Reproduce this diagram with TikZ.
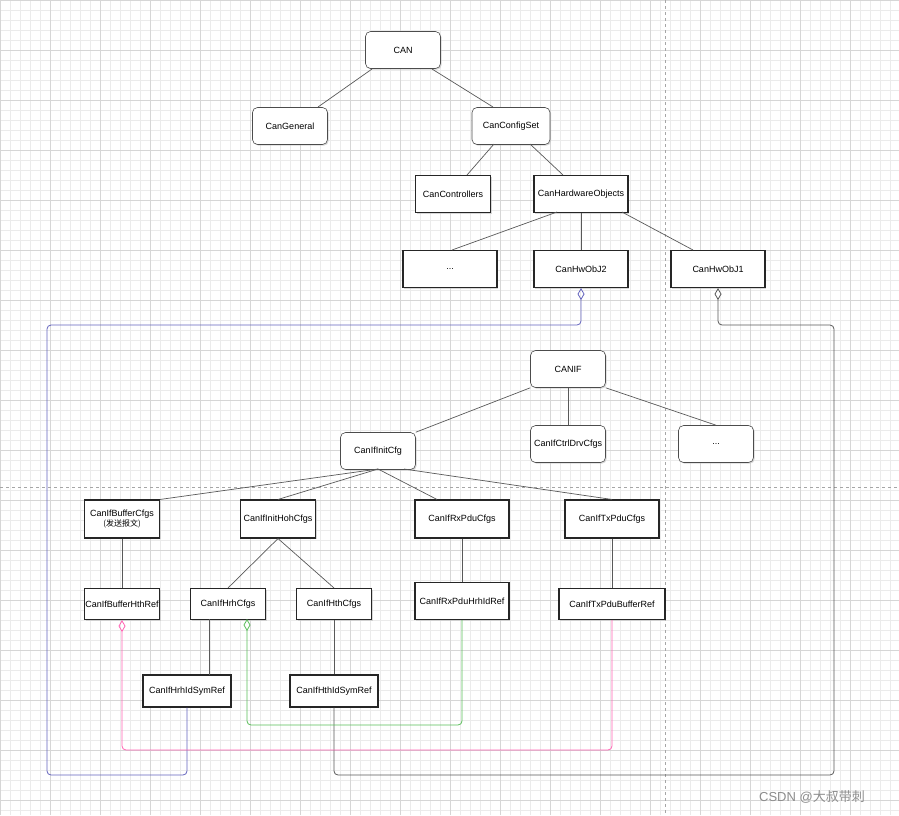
\documentclass[tikz,border=0pt]{standalone}
\usepackage{fontspec}
\setmainfont{Liberation Sans}
\newfontfamily\cjk{Noto Sans CJK SC}
\usetikzlibrary{arrows.meta,shadows}
\begin{document}
\begin{tikzpicture}[x=1pt,y=-1pt,
 box/.style={draw=black!85,line width=1.1pt,fill=white,minimum width=#1,minimum height=37pt,inner sep=1pt,font=\fontsize{9}{10.5}\selectfont,align=center,drop shadow={shadow xshift=1.2pt,shadow yshift=-1.2pt,fill=black!25,opacity=.6}},
 box/.default=75pt,
 rbox/.style={box=#1,draw=black!70,line width=0.6pt,rounded corners=5pt},
 rbox/.default=75pt,
 edge/.style={draw=black!65,line width=0.7pt},
 ref/.style={line width=0.8pt,rounded corners=4pt},
 dia/.style={{Diamond[open,length=12pt,width=7pt]}-}]
\useasboundingbox (0,0) rectangle (899,815);
\fill[white] (0,0) rectangle (899,815);
\foreach \i in {0,10,...,900} {\draw[black!8,line width=0.4pt] (\i,0) -- (\i,815);}
\foreach \i in {0,10,...,810} {\draw[black!8,line width=0.4pt] (0,\i) -- (899,\i);}
\foreach \i in {0,50,...,900} {\draw[black!16,line width=0.5pt] (\i,0) -- (\i,815);}
\foreach \i in {0,50,...,810} {\draw[black!16,line width=0.5pt] (0,\i) -- (899,\i);}
\draw[black!35,dashed,line width=0.6pt] (665,0) -- (665,815);
\draw[black!35,dashed,line width=0.6pt] (0,487) -- (899,487);

\node[rbox] (can) at (403,50) {CAN};
\node[rbox] (gen) at (290,126) {CanGeneral};
\node[rbox=78pt] (cfg) at (511,126) {CanConfigSet};
\node[box] (ctl) at (453,194) {CanControllers};
\node[box=94pt] (hwo) at (581,194) {CanHardwareObjects};
\node[box=94pt] (dots1) at (450,269) {...};
\node[box=94pt] (hw2) at (581,269) {CanHwObJ2};
\node[box=94pt] (hw1) at (718,269) {CanHwObJ1};
\node[rbox] (canif) at (568,369) {CANIF};
\node[rbox] (init) at (378,451) {CanIfInitCfg};
\node[rbox] (ctrl) at (568,444) {CanIfCtrlDrvCfgs};
\node[rbox] (dots2) at (716,444) {...};
\node[box,minimum height=38pt] (buf) at (122,519) {CanIfBufferCfgs\\{\cjk\fontsize{8}{9}\selectfont (发送报文)}};
\node[box,minimum height=38pt] (hoh) at (278,519) {CanIfInitHohCfgs};
\node[box=94pt,minimum height=38pt] (rx) at (462,519) {CanIfRxPduCfgs};
\node[box=94pt,minimum height=38pt] (tx) at (612,519) {CanIfTxPduCfgs};
\node[box,minimum height=31pt] (bufref) at (122,604) {CanIfBufferHthRef};
\node[box,minimum height=31pt] (hrh) at (228,604) {CanIfHrhCfgs};
\node[box,minimum height=31pt] (hth) at (334,604) {CanIfHthCfgs};
\node[box=94pt] (rxref) at (462,601) {CanIfRxPduHrhIdRef};
\node[box=106pt,minimum height=31pt] (txref) at (612,604) {CanIfTxPduBufferRef};
\node[box=88pt,minimum height=32pt] (hrhsym) at (187,691) {CanIfHrhIdSymRef};
\node[box=88pt,minimum height=32pt] (hthsym) at (334,691) {CanIfHthIdSymRef};

\coordinate (c1) at (372,69); \coordinate (c1b) at (318,107);
\coordinate (c2) at (432,69); \coordinate (c2b) at (493,107);
\coordinate (c3) at (494,144); \coordinate (c3b) at (467,175);
\coordinate (c4) at (530,144); \coordinate (c5) at (563,175);
\coordinate (c6) at (557,212); \coordinate (c7) at (622,212);
\coordinate (c8) at (452,250); \coordinate (c9) at (693,250);
\coordinate (i1) at (378,469); \coordinate (i2) at (404,469);
\coordinate (hr1) at (209,619); \coordinate (hr2) at (209,675);
\draw[edge] (c1) -- (c1b);
\draw[edge] (c2) -- (c2b);
\draw[edge] (c3) -- (c3b);
\draw[edge] (c4) -- (c5);
\draw[edge] (c6) -- (c8);
\draw[edge] (hwo) -- (hw2);
\draw[edge] (c7) -- (c9);
\draw[edge] (canif.south west) -- (init.north east);
\draw[edge] (canif) -- (ctrl);
\draw[edge] (canif.south east) -- (dots2.north);
\draw[edge] (i1) -- (buf.north east);
\draw[edge] (i1) -- (hoh.north);
\draw[edge] (i1) -- ([xshift=-25pt]rx.north);
\draw[edge] (i2) -- (tx.north);
\draw[edge] (hoh.south) -- (hrh.north);
\draw[edge] (hoh.south) -- (hth.north);
\draw[edge] (buf) -- (bufref);
\draw[edge] (rx) -- (rxref);
\draw[edge] (tx) -- (txref);
\draw[edge] (hr1) -- (hr2);
\draw[edge] (hth) -- (hthsym);

\coordinate (b1) at (581,325); \coordinate (b2) at (47,325); \coordinate (b3) at (47,775); \coordinate (b4) at (187,775);
\draw[ref,draw={rgb,255:red,100;green,100;blue,190},dia] (hw2.south) -- (b1) -- (b2) -- (b3) -- (b4) -- (hrhsym.south);
\coordinate (g1) at (718,325); \coordinate (g2) at (834,325); \coordinate (g3) at (834,775); \coordinate (g4) at (334,775);
\draw[ref,draw=black!65,dia] (hw1.south) -- (g1) -- (g2) -- (g3) -- (g4) -- (hthsym.south);
\coordinate (p1) at (122,750); \coordinate (p2) at (612,750);
\draw[ref,draw={rgb,255:red,255;green,100;blue,180},dia] (bufref.south) -- (p1) -- (p2) -- (txref.south);
\coordinate (h0) at (247,619); \coordinate (h1) at (247,725); \coordinate (h2) at (462,725);
\draw[ref,draw={rgb,255:red,90;green,190;blue,90},dia] (h0) -- (h1) -- (h2) -- (rxref.south);

\node[text=black!45,font=\fontsize{13}{13}\selectfont] (wm) at (812,797) {CSDN @{\cjk 大叔带刺}};
\end{tikzpicture}
\end{document}
